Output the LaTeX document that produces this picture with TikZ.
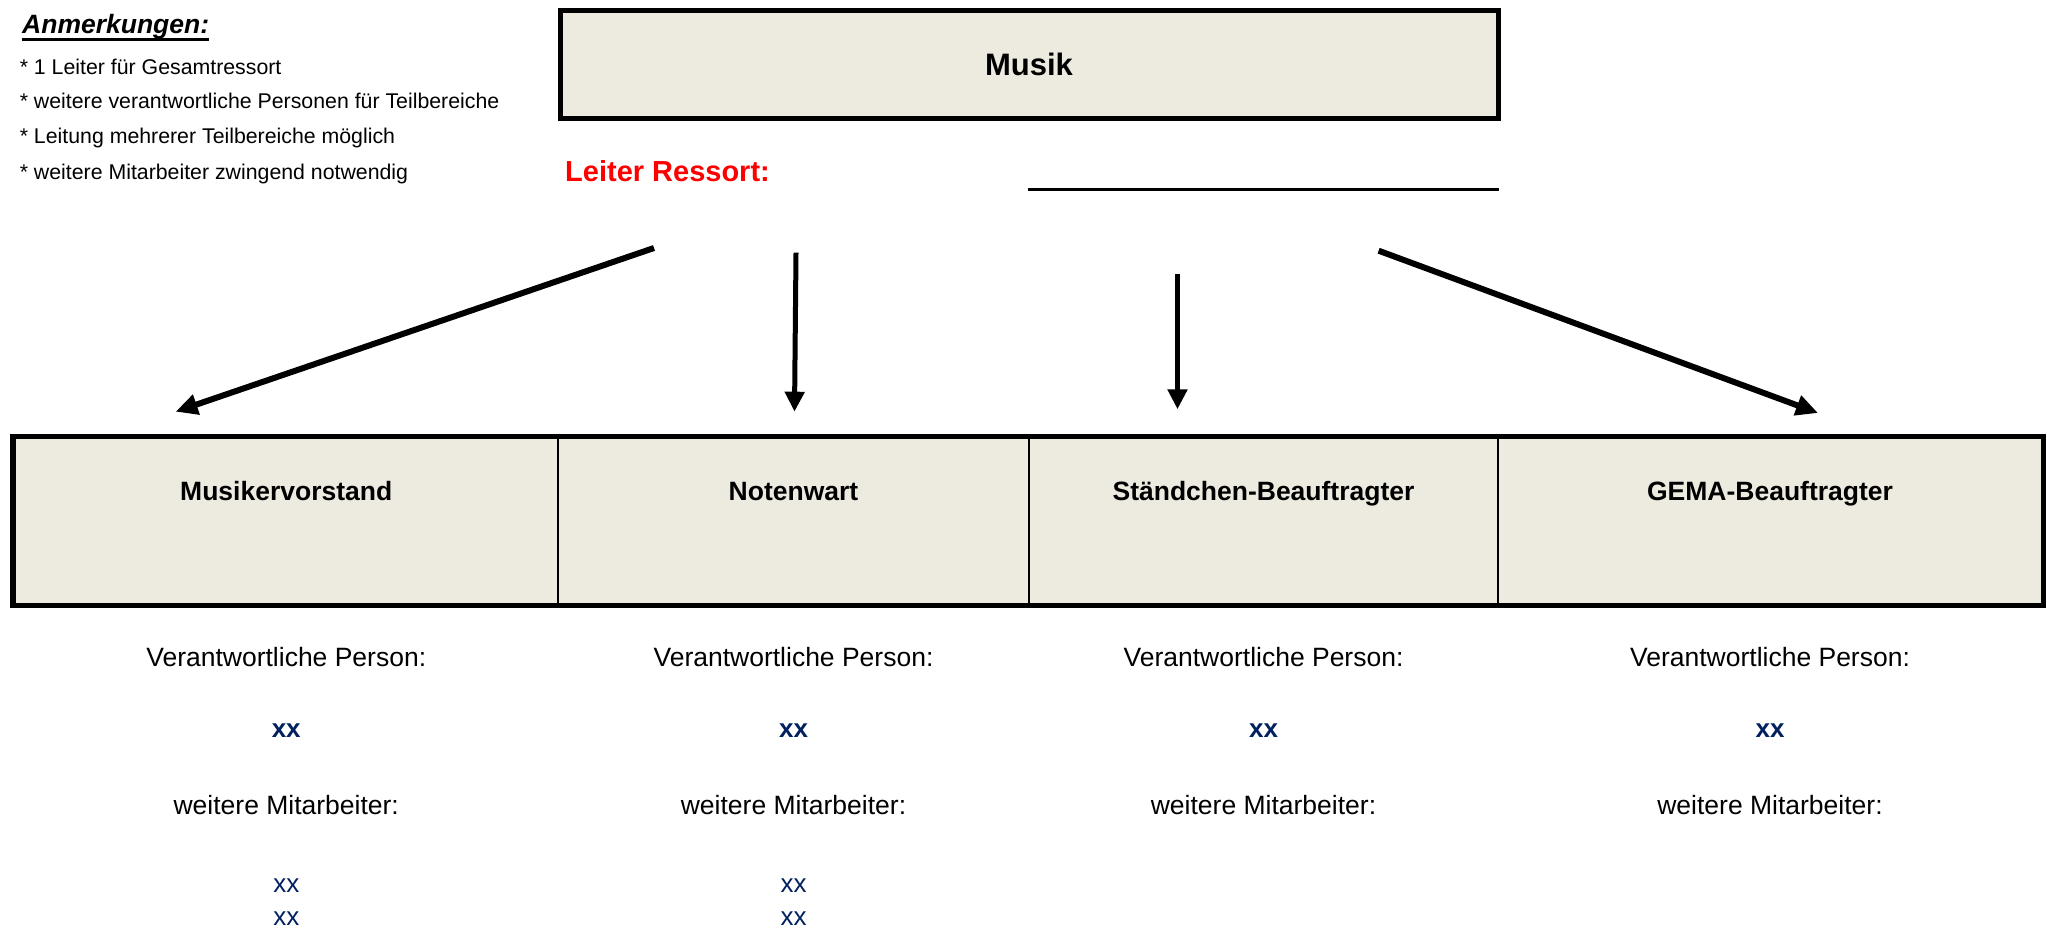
\documentclass[tikz,border=0pt]{standalone}
\usepackage{fontspec}
\setmainfont{Liberation Sans}
\usetikzlibrary{arrows.meta,fit}
\definecolor{cellfill}{RGB}{237,234,224}
\definecolor{namecol}{RGB}{0,32,96}
\definecolor{leadred}{RGB}{255,0,0}
\newcommand\fsz[1]{\fontsize{#1pt}{#1pt}\selectfont}

\begin{document}
\begin{tikzpicture}[x=1pt,y=-1pt,
  txt/.style={inner sep=0pt, anchor=base},
  note/.style={txt, anchor=base west, font=\fsz{21.3}},
  headtxt/.style={txt, font=\bfseries\fsz{26.5}},
  bodytxt/.style={txt, font=\fsz{26.5}},
  persontxt/.style={txt, font=\bfseries\fsz{26}, text=namecol},
  helpertxt/.style={txt, font=\fsz{26}, text=namecol},
  cell/.style={draw, line width=2.7pt, fill=cellfill, inner sep=0pt},
  bigarrow/.style={line width=6pt, -{Triangle[length=22pt,width=20pt]}},
  smallarrow/.style={line width=5pt, -{Triangle[length=20pt,width=19pt]}},
]
\useasboundingbox (0,0) rectangle (2047,928);

% notes in the upper left corner
\node[txt, anchor=base west, font=\bfseries\itshape\fsz{26.5}] (anm) at (22,34) {Anmerkungen:};
\draw[line width=2.5pt] ([yshift=-5.3pt]anm.base west) -- ([yshift=-5.3pt]anm.base east);
\node[note] (n1) at (19.6,75)  {* 1 Leiter für Gesamtressort};
\node[note] (n2) at (19.6,109) {* weitere verantwortliche Personen für Teilbereiche};
\node[note] (n3) at (19.6,144) {* Leitung mehrerer Teilbereiche möglich};
\node[note] (n4) at (19.6,180) {* weitere Mitarbeiter zwingend notwendig};

% head of the department
\node[draw, line width=5pt, fill=cellfill, minimum width=938pt, minimum height=108pt,
      inner sep=0pt, font=\bfseries\fsz{31}] (musik) at (1029,64.5) {Musik};
\node[txt, anchor=base west, font=\bfseries\fsz{29}, text=leadred] (leiter) at (565,182) {Leiter Ressort:};
\coordinate (sigl) at (1027.5,189.5);
\coordinate (sigr) at (1499,189.5);
\draw[line width=2.5pt] (sigl) -- (sigr);

% arrows down to the sub-areas
\coordinate (a1s) at (654,248);    \coordinate (a1e) at (175.6,411.7);
\coordinate (a2s) at (796,252.7);  \coordinate (a2e) at (794.5,411.7);
\coordinate (a3s) at (1177.5,274); \coordinate (a3e) at (1177.5,409.3);
\coordinate (a4s) at (1378.6,250.7); \coordinate (a4e) at (1818,413);
\draw[bigarrow] (a1s) -- (a1e);
\draw[smallarrow] (a2s) -- (a2e);
\draw[smallarrow] (a3s) -- (a3e);
\draw[bigarrow] (a4s) -- (a4e);

% sub-area table
\foreach \i/\l/\r/\t in {1/14.5/558/Musikervorstand, 2/558/1029/Notenwart,
    3/1029/1498/Ständchen-Beauftragter, 4/1498/2042/GEMA-Beauftragter} {
  \node[cell, fit={(\l,438) (\r,604)}] (c\i) {};
  \node[headtxt] (h\i) at ([yshift=-64pt]c\i.north) {\t};
  \node[bodytxt] (v\i) at ([yshift=-229.6pt]c\i.north) {Verantwortliche Person:};
  \node[persontxt] (p\i) at ([yshift=-300.6pt]c\i.north) {xx};
  \node[bodytxt] (w\i) at ([yshift=-377.6pt]c\i.north) {weitere Mitarbeiter:};
}
\draw[line width=5.5pt] (c1.north west) rectangle (c4.south east);

% further helpers
\foreach \i in {1,2} {
  \node[helpertxt] (m\i a) at ([yshift=-455.6pt]c\i.north) {xx};
  \node[helpertxt] (m\i b) at ([yshift=-488.6pt]c\i.north) {xx};
}
\end{tikzpicture}
\end{document}
